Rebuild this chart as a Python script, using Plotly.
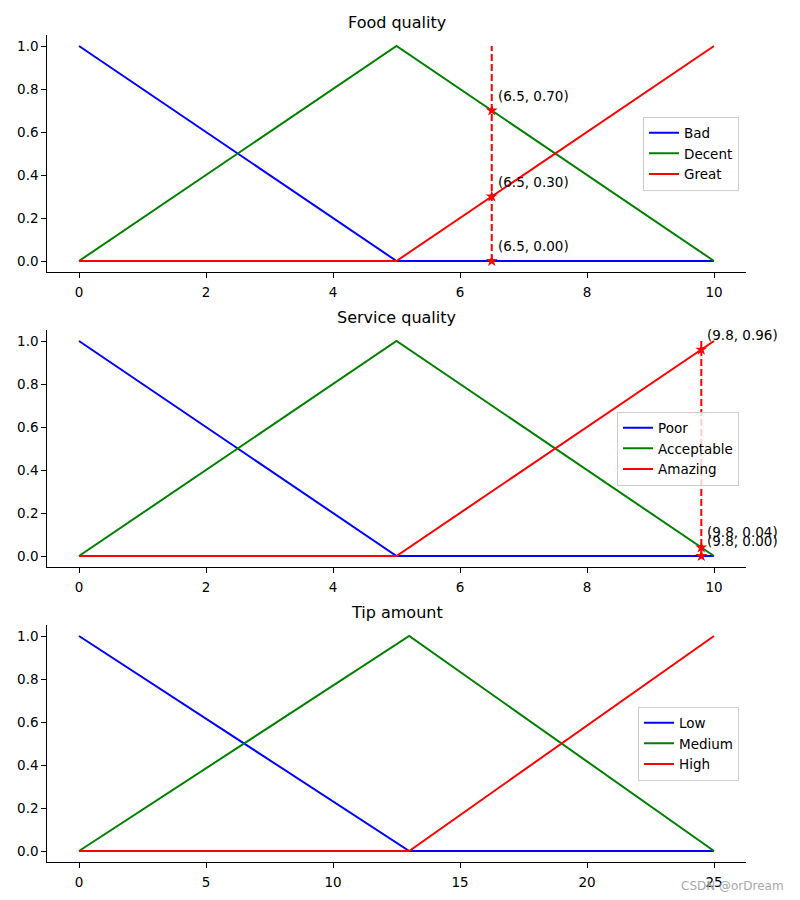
import plotly.graph_objects as go

# ---- data ----
food_x = [0, 5, 10]
food_bad = [1, 0, 0]
food_decent = [0, 1, 0]
food_great = [0, 0, 1]
food_input = 6.5
food_marks = [0.70, 0.30, 0.00]

serv_x = [0, 5, 10]
serv_poor = [1, 0, 0]
serv_acceptable = [0, 1, 0]
serv_amazing = [0, 0, 1]
serv_input = 9.8
serv_marks = [0.96, 0.04, 0.00]

tip_x = [0, 13, 25]
tip_low = [1, 0, 0]
tip_medium = [0, 1, 0]
tip_high = [0, 0, 1]

vline_y = [0, 1]

titles = ["Food quality", "Service quality", "Tip amount"]
food_names = ["Bad", "Decent", "Great"]
serv_names = ["Poor", "Acceptable", "Amazing"]
tip_names = ["Low", "Medium", "High"]

BLUE, GREEN, RED = "#0000ff", "#008000", "#ff0000"
FONT = "DejaVu Sans"
W, H = 800, 900

fig = go.Figure()

def add_membership(xs, ys_list, names, axis_idx, legend_id):
    xa = "x" if axis_idx == 1 else f"x{axis_idx}"
    ya = "y" if axis_idx == 1 else f"y{axis_idx}"
    for ys, nm, c in zip(ys_list, names, [BLUE, GREEN, RED]):
        fig.add_trace(go.Scatter(x=xs, y=ys, mode="lines", name=nm,
                                 line=dict(color=c, width=2),
                                 xaxis=xa, yaxis=ya, legend=legend_id))
    return xa, ya

def add_marks(xv, marks, xa, ya):
    fig.add_trace(go.Scatter(x=[xv, xv], y=vline_y, mode="lines",
                             line=dict(color=RED, width=2, dash="7px,3px"),
                             showlegend=False, xaxis=xa, yaxis=ya))
    fig.add_trace(go.Scatter(x=[xv] * len(marks), y=marks, mode="markers",
                             marker=dict(symbol="star", color=RED, size=9,
                                         line=dict(width=0)),
                             showlegend=False, xaxis=xa, yaxis=ya))
    for m in marks:
        fig.add_annotation(x=xv, y=m, xref=xa, yref=ya,
                           text=f"({xv}, {m:.2f})", showarrow=False,
                           xanchor="left", yanchor="middle",
                           xshift=4, yshift=15,
                           font=dict(family=FONT, size=13.5, color="black"))

xa1, ya1 = add_membership(food_x, [food_bad, food_decent, food_great], food_names, 1, "legend")
add_marks(food_input, food_marks, xa1, ya1)
xa2, ya2 = add_membership(serv_x, [serv_poor, serv_acceptable, serv_amazing], serv_names, 2, "legend2")
add_marks(serv_input, serv_marks, xa2, ya2)
xa3, ya3 = add_membership(tip_x, [tip_low, tip_medium, tip_high], tip_names, 3, "legend3")

# axes pixel geometry
x_left, x_right = 47.25, 745.75
tops = [35.25, 330.25, 625.25]
bottoms = [271.75, 566.75, 861.75]

axis_common = dict(showline=True, linecolor="black", linewidth=1, ticks="outside",
                   ticklen=5, tickwidth=1, tickcolor="black", showgrid=False,
                   zeroline=False, mirror=False,
                   tickfont=dict(family=FONT, size=13.5, color="black"))

layout = dict(width=W, height=H, margin=dict(l=0, r=0, t=0, b=0),
              paper_bgcolor="white", plot_bgcolor="white",
              font=dict(family=FONT, color="black"))

xranges = [[-0.5, 10.5], [-0.5, 10.5], [-1.25, 26.25]]
xdtick = [2, 2, 5]
for i in range(3):
    xk = "xaxis" if i == 0 else f"xaxis{i+1}"
    yk = "yaxis" if i == 0 else f"yaxis{i+1}"
    yref = "y" if i == 0 else f"y{i+1}"
    xref = "x" if i == 0 else f"x{i+1}"
    layout[xk] = dict(axis_common, domain=[x_left / W, x_right / W], range=xranges[i],
                      dtick=xdtick[i], tick0=0, anchor=yref, ticklabelstandoff=3)
    layout[yk] = dict(axis_common, domain=[1 - bottoms[i] / H, 1 - tops[i] / H],
                      range=[-0.05, 1.05], dtick=0.2, tick0=0, tickformat=".1f",
                      anchor=xref)
    lk = "legend" if i == 0 else f"legend{i+1}"
    layout[lk] = dict(x=739 / W, xanchor="right",
                      y=1 - (tops[i] + bottoms[i]) / 2 / H, yanchor="middle",
                      bgcolor="rgba(255,255,255,0.8)", bordercolor="#cccccc",
                      borderwidth=1, font=dict(family=FONT, size=13.5, color="black"),
                      tracegroupgap=0, itemwidth=30)

fig.update_layout(**layout)

for i, t in enumerate(titles):
    fig.add_annotation(text=t, xref="paper", yref="paper",
                       x=(x_left + x_right) / 2 / W, y=1 - (tops[i] - 13) / H,
                       xanchor="center", yanchor="middle", showarrow=False,
                       font=dict(family=FONT, size=16, color="black"))

fig.add_annotation(text="CSDN @orDream", xref="paper", yref="paper",
                   x=786 / W, y=1 - 886 / H, xanchor="right", yanchor="middle",
                   showarrow=False, font=dict(family=FONT, size=12, color="#a8a8a8"))

fig.write_html("out.html", config={"displayModeBar": False},
               post_script="document.body.style.margin='0';document.body.style.overflow='hidden';")
